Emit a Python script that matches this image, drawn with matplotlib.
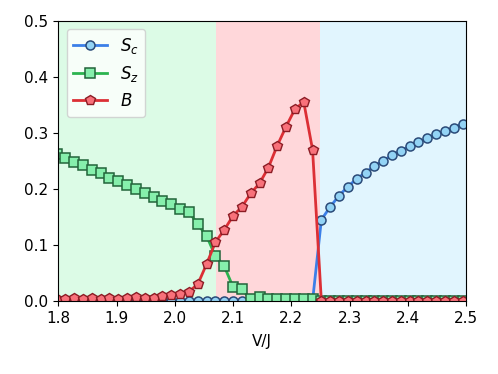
import numpy as np
import matplotlib
matplotlib.use("Agg")
import matplotlib.pyplot as plt

# V/J grid (47 points)
v_over_j = np.linspace(1.797, 2.494, 47)

s_c = [0.0] * 30 + [
    0.145, 0.168, 0.188, 0.204, 0.218, 0.229, 0.241, 0.250, 0.260,
    0.268, 0.276, 0.283, 0.290, 0.297, 0.303, 0.309, 0.316,
]

s_z = [
    0.262, 0.255, 0.248, 0.243, 0.234, 0.228, 0.220, 0.214, 0.207, 0.200,
    0.193, 0.186, 0.179, 0.173, 0.164, 0.159, 0.137, 0.116, 0.080, 0.062,
    0.025, 0.021, 0.003, 0.007, 0.003, 0.003, 0.003, 0.003, 0.003, 0.003,
] + [0.001] * 17

b_val = [
    0.004, 0.004, 0.005, 0.004, 0.005, 0.004, 0.005, 0.004, 0.005, 0.007,
    0.005, 0.006, 0.009, 0.010, 0.013, 0.017, 0.030, 0.066, 0.105, 0.127,
    0.152, 0.168, 0.192, 0.210, 0.238, 0.277, 0.311, 0.342, 0.355, 0.270,
] + [0.0] * 17

phase_edges = [1.8, 2.07, 2.25, 2.5]
phase_colors = ["#dcfbe6", "#ffd7da", "#e1f5fe"]

fig, ax = plt.subplots(figsize=(4.98, 3.74), dpi=100)
fig.subplots_adjust(left=0.117, right=0.936, top=0.945, bottom=0.195)

for lo, hi, c in zip(phase_edges[:-1], phase_edges[1:], phase_colors):
    ax.axvspan(lo, hi, color=c, lw=0, zorder=0)

ax.plot(v_over_j, s_c, color="#3b7fe8", lw=2, marker="o", ms=6.5,
        mfc="#93d3f5", mec="#2a4a78", mew=1.1, label="$S_c$")
ax.plot(v_over_j, s_z, color="#2bb34f", lw=2, marker="s", ms=6.5,
        mfc="#86efac", mec="#22643a", mew=1.1, label="$S_z$")
ax.plot(v_over_j, b_val, color="#dc2f35", lw=2, marker="p", ms=7.5,
        mfc="#f8717a", mec="#8b1c24", mew=1.0, label="$B$")

ax.set_xlim(1.8, 2.5)
ax.set_ylim(0, 0.5)
ax.set_xticks(np.arange(1.8, 2.51, 0.1))
ax.set_yticks(np.arange(0, 0.51, 0.1))
ax.tick_params(labelsize=11)
ax.set_xlabel("V/J", fontsize=11, labelpad=6)
ax.legend(loc="upper left", fontsize=12, framealpha=0.8)

fig.savefig("out.png", dpi=100)
